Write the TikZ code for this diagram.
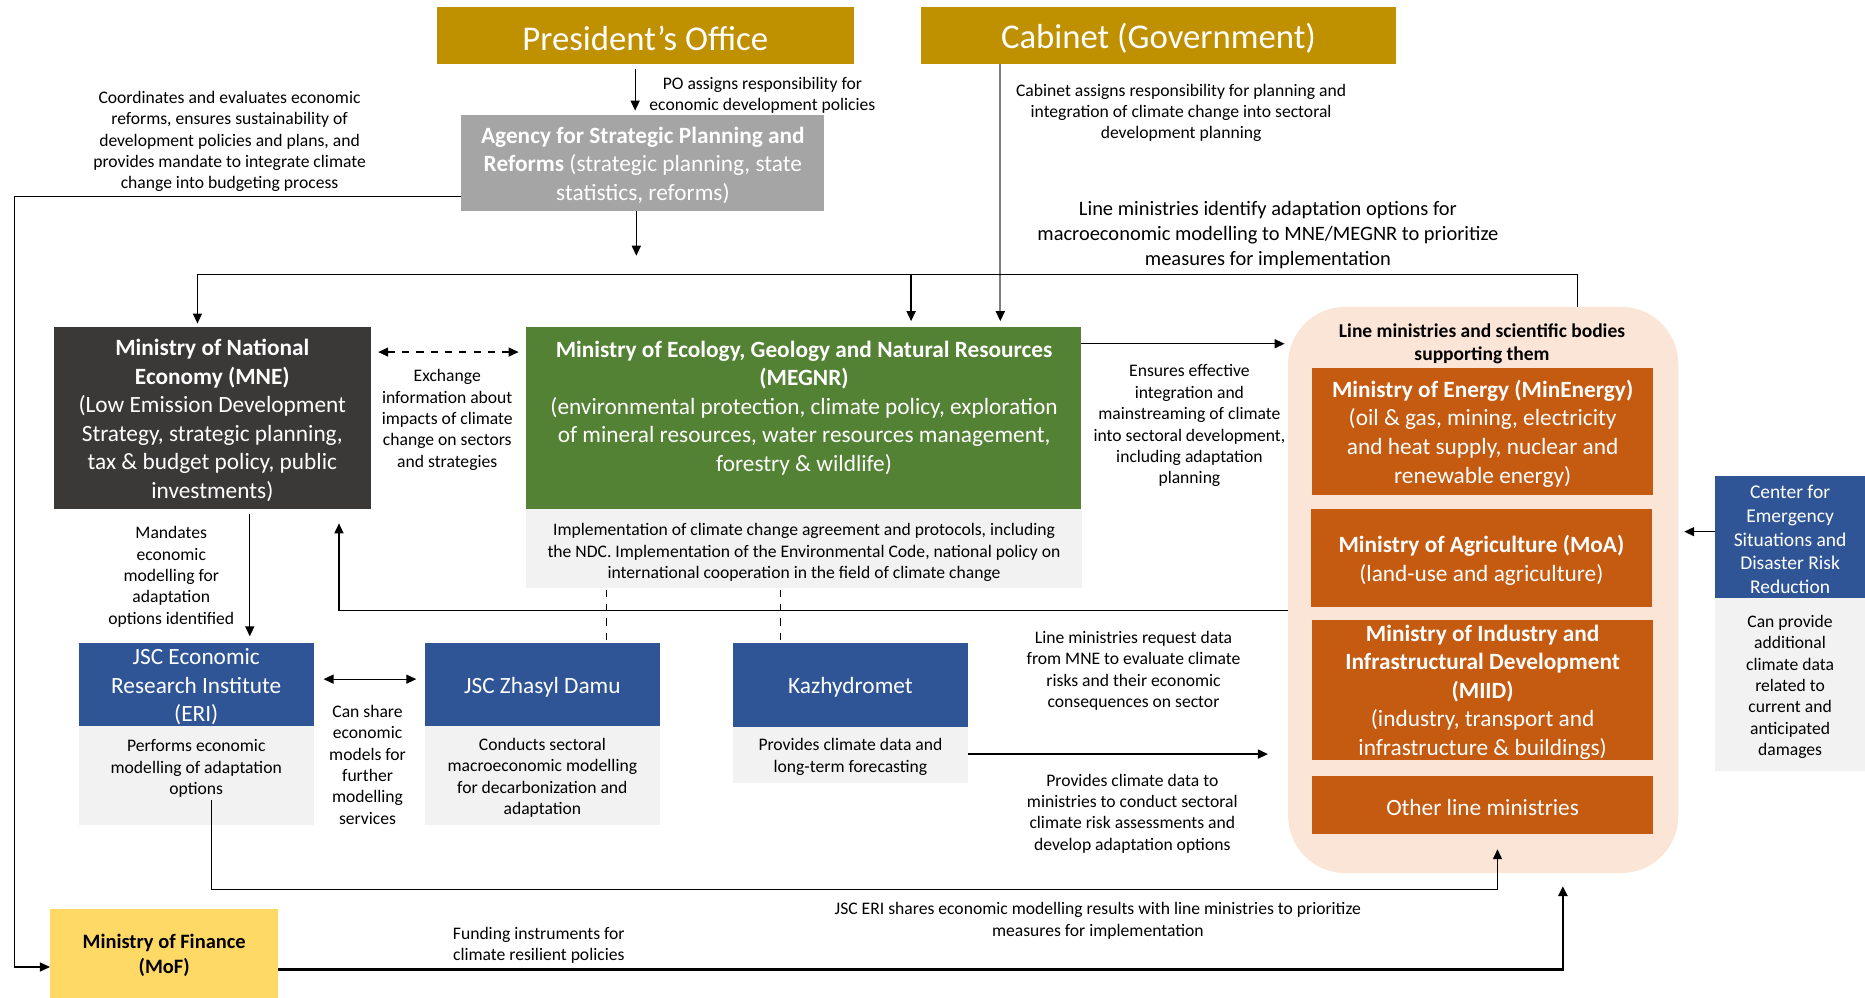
\documentclass[tikz,border=0pt]{standalone}
\usepackage{fontspec}
\setmainfont{Carlito}
\usetikzlibrary{arrows.meta,calc}

\definecolor{gold}{HTML}{BF9000}
\definecolor{agray}{HTML}{A5A5A5}
\definecolor{mnedark}{HTML}{3B3838}
\definecolor{egreen}{HTML}{548235}
\definecolor{eblue}{HTML}{2F5597}
\definecolor{orng}{HTML}{C55A11}
\definecolor{peach}{HTML}{FBE5D6}
\definecolor{paleg}{HTML}{F2F2F2}
\definecolor{myellow}{HTML}{FFD966}
\definecolor{linegray}{HTML}{7F7F7F}

\newcommand{\fsBig}{\fontsize{14.6}{17}\selectfont}
\newcommand{\fsMid}{\fontsize{9.8}{12}\selectfont}
\newcommand{\fsMed}{\fontsize{8.6}{10.5}\selectfont}
\newcommand{\fsC}{\fontsize{8.2}{10}\selectfont}
\newcommand{\fsS}{\fontsize{7.4}{9}\selectfont}

% box given by its corners (x1,y1) and (x2,y2); its text is set in a second node
\newcommand{\rbox}[7]{%
  \node[#6, minimum width={(#4-#2)*0.5pt}, minimum height={(#5-#3)*0.5pt}]
    (#1) at ({(#2+#4)/2},{(#3+#5)/2}) {};
  \node[#6, fill=none, yshift=-1pt] (#1-t) at (#1.center) {#7};}

\tikzset{
  box/.style={inner sep=0pt, outer sep=0pt, align=center, draw=none},
  wbox/.style={box, text=white, font=\fsMid},
  lbl/.style={inner sep=0pt, align=center, font=\fsS, text=black, yshift=-1pt},
  tip/.style={Triangle[length=4.2pt,width=3.8pt,color=black]},
  arr/.style={-{Triangle[length=4.2pt,width=3.8pt,color=black]}, line width=0.55pt},
  darr/.style={{Triangle[length=4.2pt,width=3.8pt]}-{Triangle[length=4.2pt,width=3.8pt]}, line width=0.55pt},
}

\begin{document}
\begin{tikzpicture}[x=0.5pt,y=-0.5pt]
\useasboundingbox[fill=white] (0,0) rectangle (1568,839);

% ---- top level ----
\rbox{po}{367}{6}{718}{54}{box, fill=gold, text=white, font=\fsBig}{President’s Office}
\rbox{cab}{774}{6}{1174}{54}{box, fill=gold, text=white, font=\fsBig}{Cabinet (Government)}
\rbox{agency}{388}{97}{693}{177}{wbox, fill=agray}{\textbf{Agency for Strategic Planning and}\\\textbf{Reforms} (strategic planning, state\\statistics, reforms)}

% ---- ministries ----
\rbox{mne}{45}{275}{312}{428}{wbox, fill=mnedark}{\textbf{Ministry of National}\\\textbf{Economy (MNE)}\\(Low Emission Development\\Strategy, strategic planning,\\tax \& budget policy, public\\investments)}
\rbox{megnr}{442}{275}{909}{428}{box, fill=egreen}{}
\node[box, text=white, font=\fsMid, yshift=-1pt] (megnrTxt) at (676,341) {\textbf{Ministry of Ecology, Geology and Natural Resources}\\\textbf{(MEGNR)}\\(environmental protection, climate policy, exploration\\of mineral resources, water resources management,\\forestry \& wildlife)};
\rbox{ndc}{442}{428}{910}{494}{box, fill=paleg}{}
\node[lbl] (ndcTxt) at (676,462.5) {Implementation of climate change agreement and protocols, including\\the NDC. Implementation of the Environmental Code, national policy on\\international cooperation in the field of climate change};

% ---- line ministries group ----
\rbox{lm}{1083}{258}{1411}{734}{box, fill=peach, rounded corners=24pt}{}
\node[lbl, font=\fsC\bfseries] (lmTitle) at (1246,287) {Line ministries and scientific bodies\\supporting them};
\rbox{minen}{1103}{309}{1390}{416}{wbox, fill=orng}{\textbf{Ministry of Energy (MinEnergy)}\\(oil \& gas, mining, electricity\\and heat supply, nuclear and\\renewable energy)}
\rbox{moa}{1102}{428}{1389}{510}{wbox, fill=orng}{\textbf{Ministry of Agriculture (MoA)}\\(land-use and agriculture)}
\rbox{miid}{1103}{521}{1390}{639}{wbox, fill=orng}{\textbf{Ministry of Industry and}\\\textbf{Infrastructural Development}\\\textbf{(MIID)}\\(industry, transport and\\infrastructure \& buildings)}
\rbox{oth}{1103}{652}{1390}{701}{wbox, fill=orng}{Other line ministries}

% ---- emergency centre ----
\rbox{cem}{1442}{400}{1568}{503}{box, fill=eblue, text=white, font=\fsC}{Center for\\Emergency\\Situations and\\Disaster Risk\\Reduction}
\rbox{cemg}{1442}{503}{1568}{648}{box, fill=paleg, font=\fsS}{Can provide\\additional\\climate data\\related to\\current and\\anticipated\\damages}

% ---- scientific bodies ----
\rbox{eri}{66}{541}{264}{610}{wbox, fill=eblue}{JSC Economic\\Research Institute\\(ERI)}
\rbox{erig}{66}{610}{264}{694}{box, fill=paleg}{}
\node[lbl] (eriTxt) at (165,644) {Performs economic\\modelling of adaptation\\options};
\rbox{zd}{357}{541}{555}{610}{wbox, fill=eblue}{JSC Zhasyl Damu}
\rbox{zdg}{357}{610}{555}{694}{box, fill=paleg, font=\fsS}{Conducts sectoral\\macroeconomic modelling\\for decarbonization and\\adaptation}
\rbox{kz}{616}{541}{814}{611}{wbox, fill=eblue}{Kazhydromet}
\rbox{kzg}{616}{611}{814}{658}{box, fill=paleg, font=\fsS}{Provides climate data and\\long-term forecasting}

% ---- finance ----
\rbox{mof}{42}{764}{234}{839}{box, fill=myellow, font=\fsMed\bfseries}{Ministry of Finance\\(MoF)}

% ---- connector labels ----
\node[lbl] (poLbl) at (641,78) {PO assigns responsibility for\\economic development policies};
\node[lbl] (coordLbl) at (193,117) {Coordinates and evaluates economic\\reforms, ensures sustainability of\\development policies and plans, and\\provides mandate to integrate climate\\change into budgeting process};
\node[lbl] (cabLbl) at (993,93) {Cabinet assigns responsibility for planning and\\integration of climate change into sectoral\\development planning};
\node[lbl, font=\fsMed] (idLbl) at (1066,196) {Line ministries identify adaptation options for\\macroeconomic modelling to MNE/MEGNR to prioritize\\measures for implementation};
\node[lbl] (exchLbl) at (376,351) {Exchange\\information about\\impacts of climate\\change on sectors\\and strategies};
\node[lbl] (ensLbl) at (1000,356) {Ensures effective\\integration and\\mainstreaming of climate\\into sectoral development,\\including adaptation\\planning};
\node[lbl] (mandLbl) at (144,483) {Mandates\\economic\\modelling for\\adaptation\\options identified};
\node[lbl] (reqLbl) at (953,562) {Line ministries request data\\from MNE to evaluate climate\\risks and their economic\\consequences on sector};
\node[lbl] (shareLbl) at (309,641) {Can share\\economic\\models for\\further\\modelling\\services};
\node[lbl] (provLbl) at (952,682) {Provides climate data to\\ministries to conduct sectoral\\climate risk assessments and\\develop adaptation options};
\node[lbl] (resLbl) at (923,772) {JSC ERI shares economic modelling results with line ministries to prioritize\\measures for implementation};
\node[lbl] (fundLbl) at (453,793) {Funding instruments for\\climate resilient policies};

% ---- connectors ----
\coordinate (agDown) at (535,215);
\coordinate (busL) at (166,231);
\coordinate (busM) at (766,231);

\draw[arr, shorten <=2pt, shorten >=2pt] (534,0 |- po.south) -- (534,0 |- agency.north);
\draw[arr, linegray, line width=0.8pt, shorten >=2.5pt] (841,0 |- cab.south) -- (841,0 |- megnr.north);
\draw[arr] (535,0 |- agency.south) -- (agDown);
\draw[arr, shorten >=1.5pt] (1326,0 |- lm.north) |- (busL) -- (166,0 |- mne.north);
\draw[arr, shorten >=2.5pt] (busM) -- (766,0 |- megnr.north);
\draw[darr, dashed, shorten <=3pt, shorten >=3pt] (mne.east |- 0,296) -- (megnr.west |- 0,296);
\draw[arr, shorten >=1.5pt] (megnr.east |- 0,289) -- (lm.west |- 0,289);
\draw[arr, shorten <=2pt, shorten >=3pt] (210,0 |- mne.south) -- (210,0 |- eri.north);
\draw[arr, shorten >=6pt] (lm.west |- 0,513) -| (285,0 |- mne.south);
\draw[darr, shorten <=4pt, shorten >=3.5pt] (eri.east |- 0,571) -- (zd.west |- 0,571);
\draw[dashed, line width=0.55pt, shorten <=1pt] (510,0 |- ndc.south) -- (510,0 |- zd.north);
\draw[dashed, line width=0.55pt, shorten <=1pt] (656,0 |- ndc.south) -- (656,0 |- kz.north);
\draw[arr, shorten >=8.5pt] (kzg.east |- 0,634) -- (lm.west |- 0,634);
\draw[arr, shorten <=1pt, shorten >=6.5pt] (178,0 |- eriTxt.south) |- (1259,748) -- (1259,0 |- oth.south);
\draw[arr, shorten >=2.5pt] (cem.west |- 0,447) -- (lm.east |- 0,447);
\draw[arr] (agency.west |- 0,165) -- (12,165) |- (mof.west |- 0,813);
\draw[arr, line width=1pt, shorten >=5.5pt] (mof.east |- 0,815) -| (1314,0 |- lm.south);

\end{tikzpicture}
\end{document}
